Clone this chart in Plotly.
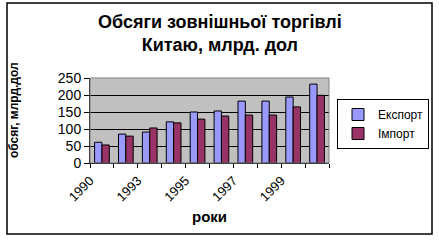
import plotly.graph_objects as go

years = ["1990", "1992", "1993", "1994", "1995", "1996", "1997", "1998", "1999", "2000"]
export_vals = [61, 85, 91, 121, 150, 153, 182, 182, 194, 232]
import_vals = [53, 79, 103, 118, 129, 138, 141, 141, 165, 199]
label_years = ["1990", "1993", "1995", "1997", "1999"]

idx = list(range(len(years)))
label_pos = [years.index(y) - 0.5 for y in label_years]

W, H = 439, 241
L, R, T, B = 90, 110, 78, 78
PW, PH = W - L - R, H - T - B

fig = go.Figure()
fig.add_trace(go.Bar(x=idx, y=export_vals, name="Експорт",
                     marker=dict(color="#9999FF", line=dict(color="black", width=1))))
fig.add_trace(go.Bar(x=idx, y=import_vals, name="Імпорт",
                     marker=dict(color="#993366", line=dict(color="black", width=1))))

font = "Arial, Liberation Sans, sans-serif"
fig.update_layout(
    width=W, height=H,
    margin=dict(l=L, r=R, t=T, b=B, autoexpand=False),
    paper_bgcolor="white", plot_bgcolor="#C0C0C0",
    barmode="group", bargap=0.385, bargroupgap=0,
    font=dict(family=font, size=13, color="black"),
    showlegend=True,
    legend=dict(x=(337 - L) / PW, y=(163 - 99) / PH,
                xanchor="left", yanchor="top",
                bordercolor="black", borderwidth=1, bgcolor="white",
                font=dict(size=12), tracegroupgap=0, itemwidth=30),
    xaxis=dict(range=[-0.5, len(years) - 0.5], tickmode="array",
               tickvals=label_pos, ticktext=label_years, tickangle=-45,
               ticks="outside", ticklen=4, tickcolor="black",
               minor=dict(ticks="outside", dtick=1, tick0=-0.5, ticklen=4, tickcolor="black", showgrid=False),
               showgrid=False, showline=True, linecolor="black", linewidth=1,
               tickfont=dict(size=13), zeroline=False, automargin=False),
    yaxis=dict(range=[0, 250], dtick=50, ticks="outside", ticklen=5, tickcolor="black",
               showgrid=True, gridcolor="black", gridwidth=1,
               showline=True, linecolor="black", linewidth=1,
               tickfont=dict(size=14), zeroline=False, automargin=False),
    annotations=[
        dict(text="<b>Обсяги зовнішньої торгівлі<br>Китаю, млрд. дол</b>",
             xref="paper", yref="paper", x=(220 - L) / PW, y=1,
             xanchor="center", yanchor="middle", yshift=(T - 33), showarrow=False,
             font=dict(size=18), align="center"),
        dict(text="<b>роки</b>", xref="paper", yref="paper", x=0.5, y=0,
             xanchor="center", yanchor="middle", yshift=-53, showarrow=False,
             font=dict(size=15)),
        dict(text="<b>обсяг, млрд.дол</b>", xref="paper", yref="paper", x=0, y=(163 - 110) / PH,
             xanchor="center", yanchor="middle", xshift=-(L - 14), textangle=-90, showarrow=False,
             font=dict(size=12)),
    ],
    shapes=[
        dict(type="rect", xref="paper", yref="paper",
             x0=(7 - L) / PW, x1=(432 - L) / PW,
             y0=(163 - 234) / PH, y1=(163 - 3) / PH,
             line=dict(color="black", width=1.5), fillcolor="rgba(0,0,0,0)", layer="below"),
        dict(type="rect", xref="paper", yref="paper", x0=0, x1=1, y0=0, y1=1,
             line=dict(color="#808080", width=1), fillcolor="rgba(0,0,0,0)"),
    ],
)
fig.write_html("out.html")
